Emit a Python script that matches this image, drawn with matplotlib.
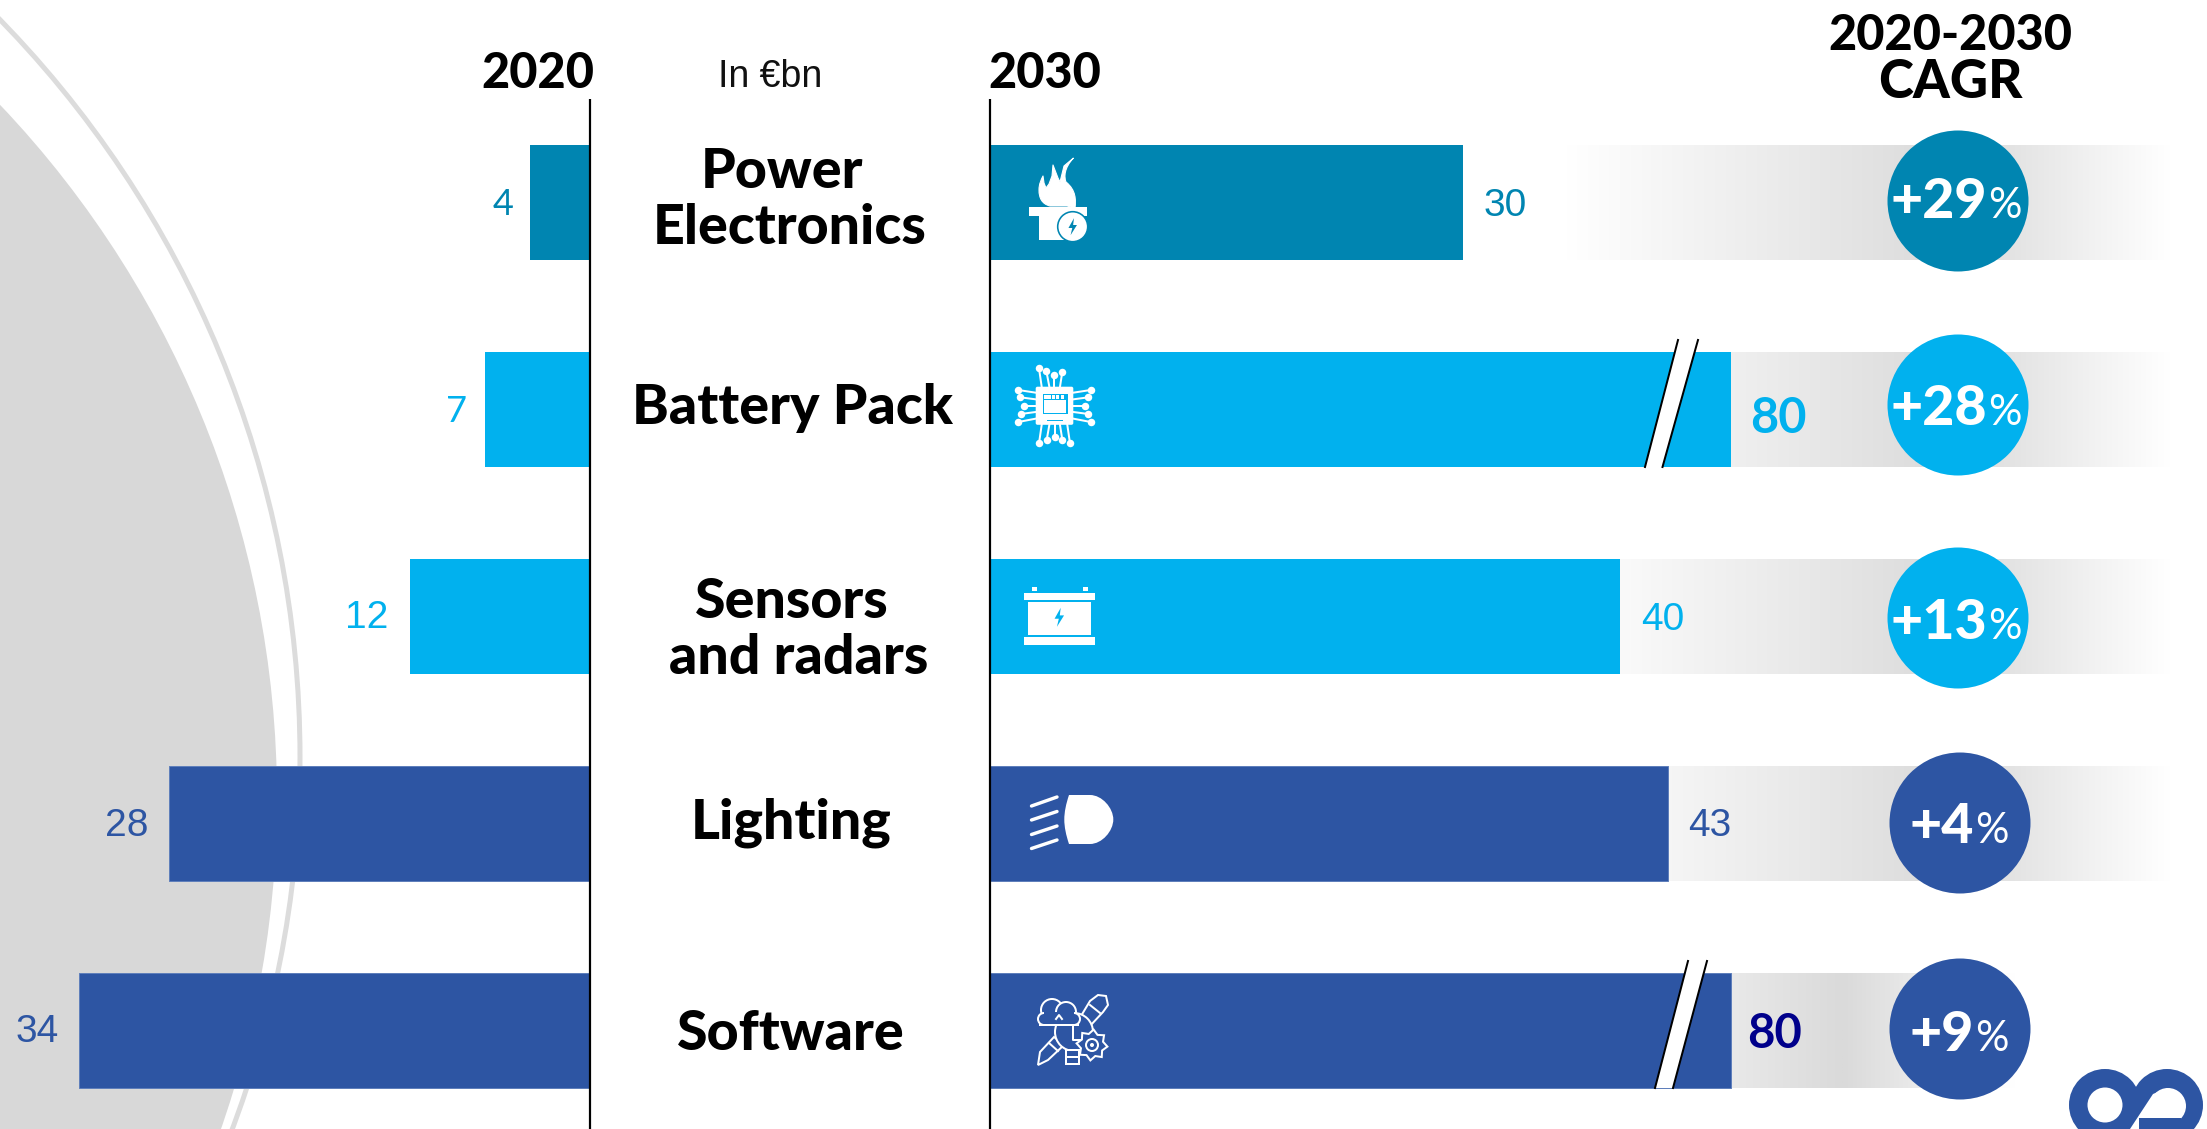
"""Automotive electronics market: 2020 vs 2030 mirrored bars with CAGR badges."""

import matplotlib

matplotlib.use("Agg")
import matplotlib.pyplot as plt
import numpy as np
from matplotlib.colors import LinearSegmentedColormap
from matplotlib.patches import Circle, FancyBboxPatch, PathPatch, Polygon, Rectangle
from matplotlib.path import Path
from matplotlib.scale import FuncScale

# data
categories = ["Power Electronics", "Battery Pack", "Sensors and radars", "Lighting", "Software"]
values_2020 = [4, 7, 12, 28, 34]
values_2030 = [30, 80, 40, 43, 80]
cagr_pct = [29, 28, 13, 4, 9]
category_lines = [["Power", "Electronics"], ["Battery Pack"], ["Sensors", "and radars"], ["Lighting"], ["Software"]]

# figure layout, in pixels
W, H = 2207, 1129
PX = 72 / 100  # points per pixel at dpi 100
ROW0, PITCH, BAR_PX = 202.5, 207, 115
AXIS_2020, AXIS_2030 = 589.5, 989.5
SCALE_2020, SCALE_2030 = 15.0, 15.77
BREAK_AT = 45
BREAK_SQUEEZE = 0.0586

TEAL, SKY, BLUE = "#0085B1", "#01B1EE", "#2D55A3"
row_colors = [TEAL, SKY, SKY, BLUE, BLUE]
HEAD_FONT = "Lato"
row_px = [ROW0 + PITCH * i for i in range(len(categories))]

fig = plt.figure(figsize=(W / 100, H / 100), dpi=100, facecolor="white")


def pixel_axes(zorder):
    ax = fig.add_axes([0, 0, 1, 1], zorder=zorder)
    ax.set_xlim(0, W)
    ax.set_ylim(H, 0)
    ax.axis("off")
    ax.patch.set_alpha(0)
    return ax


ax_bg = pixel_axes(0)
ax_top = pixel_axes(3)

# grey disc and ring behind the 2020 bars
ax_bg.add_patch(Circle((-729, 798), 1006, fc="#D8D8D8", ec="none"))
ax_bg.add_patch(Circle((-756, 757), 1056, fc="none", ec="#DCDCDC", lw=5 * PX))

# fading bands behind the CAGR badges
fade = LinearSegmentedColormap.from_list("fade", ["#FFFFFF", "#DADADA"])
band_stops = [(1566, 1958, 2170)] * 4 + [(1566, 1843, 2015)]
for y, (x0, xm, x1) in zip(row_px, band_stops):
    xs = np.arange(x0, x1 + 1)
    ramp = np.interp(xs, [x0, xm, x1], [0, 1, 0])[None, :]
    ax_bg.imshow(ramp, cmap=fade, vmin=0, vmax=1, aspect="auto", interpolation="bilinear",
                 extent=(x0, x1, y + BAR_PX / 2, y - BAR_PX / 2), zorder=1)
ax_bg.set_xlim(0, W)
ax_bg.set_ylim(H, 0)

# 2020 bars grow leftwards from their axis
y_limits = ((H - ROW0) / PITCH, -ROW0 / PITCH)
rows = np.arange(len(categories))
ax_left = fig.add_axes([0, 0, AXIS_2020 / W, 1], zorder=1)
ax_left.barh(rows, values_2020, height=BAR_PX / PITCH, color=row_colors)
ax_left.set_xlim(AXIS_2020 / SCALE_2020, 0)
ax_left.set_ylim(*y_limits)
ax_left.axis("off")
ax_left.patch.set_alpha(0)


# 2030 axis is squeezed above BREAK_AT so the 80 bars fit
def squeeze(x):
    x = np.asarray(x, dtype=float)
    return np.where(x <= BREAK_AT, x, BREAK_AT + (x - BREAK_AT) * BREAK_SQUEEZE)


def unsqueeze(x):
    x = np.asarray(x, dtype=float)
    return np.where(x <= BREAK_AT, x, BREAK_AT + (x - BREAK_AT) / BREAK_SQUEEZE)


ax_right = fig.add_axes([AXIS_2030 / W, 0, 1 - AXIS_2030 / W, 1], zorder=1)
ax_right.set_xscale(FuncScale(ax_right.xaxis, (squeeze, unsqueeze)))
ax_right.barh(rows, values_2030, height=BAR_PX / PITCH, color=row_colors)
ax_right.set_xlim(0, float(unsqueeze((W - AXIS_2030) / SCALE_2030)))
ax_right.set_ylim(*y_limits)
ax_right.axis("off")
ax_right.patch.set_alpha(0)

# thin lighter outline on the dark rows
for ax in (ax_left, ax_right):
    for bar, color in zip(ax.patches, row_colors):
        if color == BLUE:
            bar.set_edgecolor("#5F7FBB")
            bar.set_linewidth(1 * PX)

# value labels: (gap, drop) in pixels from the bar end
left_gap = [16, 18, 21, 21, 21]
left_font = ["Lato", "Lato", "Liberation Sans", "Liberation Sans", "Liberation Sans"]
left_size = [26, 26, 28, 28, 28]
right_gap = [21, 19, 21, 21, 16]
right_drop = [3, 9, 3, 3, 3]
right_color = [TEAL, SKY, SKY, BLUE, "#00008B"]
right_size = [28, 35, 28, 28, 34]
for i in rows:
    ax_left.annotate(str(values_2020[i]), (values_2020[i], i), xytext=(-left_gap[i] * PX, -2 * PX),
                     textcoords="offset points", ha="right", va="center", color=row_colors[i],
                     fontsize=left_size[i], fontfamily=left_font[i], zorder=5)
    is_long = values_2030[i] == 80
    ax_right.annotate(str(values_2030[i]), (values_2030[i], i), xytext=(right_gap[i] * PX, -right_drop[i] * PX),
                      textcoords="offset points", ha="left", va="center", color=right_color[i],
                      fontsize=right_size[i], fontweight="bold" if is_long else "normal",
                      fontfamily="Lato" if is_long else "Liberation Sans", zorder=5)

# axis rules and headers
for x in (AXIS_2020, AXIS_2030):
    ax_top.plot([x, x], [99, H], color="black", lw=2.2 * PX, solid_capstyle="butt")

head = dict(fontfamily=HEAD_FONT, fontweight="black", color="black", va="center")
ax_top.text(594, 73, "2020", ha="right", fontsize=35, **head)
ax_top.text(988, 73, "2030", ha="left", fontsize=35, **head)
ax_top.text(1950, 35, "2020-2030", ha="center", fontsize=35, **head)
ax_top.text(1950, 83, "CAGR", ha="center", fontsize=38, **head)
ax_top.text(770, 77, "In €bn", ha="center", va="center", fontsize=27, fontfamily="Liberation Sans", color="#111111")

# category names, line by line
name_pos = [[(782, 172), (790, 228)], [(792, 408)], [(792, 602), (799, 658)], [(791, 823)], [(791, 1034)]]
for lines, places in zip(category_lines, name_pos):
    for line, (x, y) in zip(lines, places):
        ax_top.text(x, y, line, ha="center", va="center", fontfamily=HEAD_FONT, fontweight="black",
                    fontsize=40, color="black")

# broken-bar marks
for (bx0, bx1, tx0, tx1, ty, by) in [(1645, 1662.5, 1678, 1698, 340, 467), (1655, 1673, 1688, 1707, 961, 1088)]:
    ax_top.add_patch(Polygon([(bx0, by), (tx0, ty), (tx1, ty), (bx1, by)], fc="white", ec="none"))
    ax_top.plot([bx0, tx0], [by, ty], color="black", lw=2 * PX)
    ax_top.plot([bx1, tx1], [by, ty], color="black", lw=2 * PX)

# CAGR badges
badge_x = [1958, 1958, 1958, 1960, 1960]
badge_nudge = [-1.5, -4.5, 1.5, -0.5, -1.5]
badge_y = [y + n for y, n in zip(row_px, badge_nudge)]
ax_top.scatter(badge_x, badge_y, s=(141 * PX) ** 2, c=row_colors, linewidths=0, zorder=4)
split_x = [1987, 1987, 1987, 1973.5, 1973.5]
baseline = [218, 425, 639, 843, 1051]
for i in rows:
    ax_top.text(split_x[i], baseline[i], f"+{cagr_pct[i]}", ha="right", va="baseline", color="white",
                fontfamily=HEAD_FONT, fontweight="black", fontsize=40, zorder=5)
    ax_top.text(split_x[i] + 1.5, baseline[i], "%", ha="left", va="baseline", color="white",
                fontfamily=HEAD_FONT, fontsize=30, zorder=5)


# pictograms on the 2030 bars
def bolt(cx, cy, size, color):
    pts = np.array([(0.15, -1), (-0.5, 0.15), (-0.05, 0.15), (-0.25, 1), (0.5, -0.2), (0.05, -0.2)])
    ax_top.add_patch(Polygon(pts * size + (cx, cy), fc=color, ec="none", zorder=6))


def draw_flame():
    w = "white"
    # tips and the valley stay sharp, the body is drawn with curves
    verts = [(1073.5, 158), (1064, 168), (1064, 177), (1066, 182), (1076, 190), (1076, 200), (1075, 208), (1067, 206),
             (1050, 206), (1042, 204), (1039, 198), (1039, 190), (1039, 184), (1041, 180), (1043, 176), (1044, 183),
             (1046, 188), (1049, 184), (1052, 176), (1053, 165), (1058, 178), (1060, 182), (1064, 166), (1073.5, 158)]
    codes = [Path.MOVETO, Path.CURVE4, Path.CURVE4, Path.CURVE4, Path.CURVE4, Path.CURVE4, Path.CURVE4, Path.LINETO,
             Path.LINETO, Path.CURVE4, Path.CURVE4, Path.CURVE4, Path.CURVE4, Path.CURVE4, Path.LINETO, Path.LINETO,
             Path.LINETO, Path.LINETO, Path.LINETO, Path.LINETO, Path.LINETO, Path.LINETO, Path.LINETO, Path.LINETO]
    ax_top.add_patch(PathPatch(Path(verts, codes), fc=w, ec=w, lw=0.8, joinstyle="round", zorder=5))
    ax_top.add_patch(Rectangle((1029, 207), 58, 9, fc=w, ec="none", zorder=5))
    ax_top.add_patch(Rectangle((1039, 216), 25, 24, fc=w, ec="none", zorder=5))
    ax_top.add_patch(Circle((1072.7, 226.7), 15, fc=w, ec=TEAL, lw=1.6 * PX, zorder=5))
    bolt(1072.7, 226.7, 8.5, TEAL)


def draw_chip():
    w = "white"
    lw = 2 * PX
    top = [(267, 745), (289, 753), (313, 765), (337, 755)]
    bottom = [(267, 970), (290, 960), (314, 952), (337, 960), (360, 970)]
    left = [(205, 810), (211, 832), (222, 857), (212, 882), (205, 906)]
    right = [(422, 810), (415, 832), (404, 857), (415, 882), (422, 906)]
    ox, oy = 950, 120
    for (dx, dy), (ex, ey) in zip(top, [(275, 800), (298, 800), (313, 800), (330, 800)]):
        ax_top.plot([ox + dx / 3, ox + ex / 3], [oy + dy / 3, oy + ey / 3], color=w, lw=lw, zorder=5)
    for (dx, dy), ex in zip(bottom, [275, 298, 314, 330, 352]):
        ax_top.plot([ox + dx / 3, ox + ex / 3], [oy + dy / 3, oy + 915 / 3], color=w, lw=lw, zorder=5)
    for (dx, dy), ey in zip(left, [818, 838, 857, 876, 896]):
        ax_top.plot([ox + dx / 3, ox + 257 / 3], [oy + dy / 3, oy + ey / 3], color=w, lw=lw, zorder=5)
    for (dx, dy), ey in zip(right, [818, 838, 857, 876, 896]):
        ax_top.plot([ox + dx / 3, ox + 370 / 3], [oy + dy / 3, oy + ey / 3], color=w, lw=lw, zorder=5)
    dots = np.array(top + bottom + left + right, dtype=float) / 3 + (ox, oy)
    ax_top.scatter(dots[:, 0], dots[:, 1], s=(7.5 * PX) ** 2, c=w, linewidths=0, zorder=5)
    ax_top.add_patch(FancyBboxPatch((1037.5, 388.5), 34, 34.5, boxstyle="round,pad=1.8", fc=w, ec="none", zorder=5))
    ax_top.add_patch(Rectangle((1042.5, 393.5), 25, 20.5, fc=SKY, ec="none", zorder=6))
    ax_top.add_patch(Rectangle((1044, 400), 22, 12.5, fc=w, ec="none", zorder=7))
    for x in (1044, 1052, 1056, 1060.5):
        ax_top.add_patch(Rectangle((x, 395), 3 if x > 1044 else 7, 4, fc=w, ec="none", zorder=7))
    ax_top.add_patch(Rectangle((1047, 420), 16, 1.3, fc=SKY, ec="none", zorder=7))


def draw_battery():
    w = "white"
    for x, y, bw, bh in [(1024, 592.7, 71.3, 7.3), (1028.3, 602, 62.4, 33), (1024, 637, 71.3, 7.7),
                         (1032, 586.7, 5, 4.6), (1083, 586.7, 5, 4.6)]:
        ax_top.add_patch(Rectangle((x, y), bw, bh, fc=w, ec="none", zorder=5))
    bolt(1059.3, 617.3, 9.5, SKY)


def draw_headlight():
    w = "white"
    verts = [(1069, 795), (1090, 795), (1102, 795), (1113.3, 808), (1113.3, 819.5), (1113.3, 831), (1102, 844), (1090, 844),
             (1069, 844), (1066, 835), (1064.3, 827), (1064.3, 819.5), (1064.3, 812), (1066, 804), (1069, 795)]
    codes = [Path.MOVETO, Path.LINETO] + [Path.CURVE4] * 6 + [Path.LINETO] + [Path.CURVE4] * 6
    ax_top.add_patch(PathPatch(Path(verts, codes), fc=w, ec="none", zorder=5))
    for y0, y1 in [(806, 797), (820, 811.5), (834.5, 826), (848.5, 840)]:
        ax_top.plot([1031.5, 1057], [y0, y1], color=w, lw=3.4 * PX, solid_capstyle="round", zorder=5)


def draw_software():
    w = "white"
    lw = 2 * PX
    # pencil running behind the bulb
    ax_top.add_patch(Polygon([(1090, 1001), (1098, 995), (1106, 996), (1108, 1005), (1103, 1012), (1090, 1026), (1081, 1016)],
                             fc=BLUE, ec=w, lw=lw, zorder=5))
    ax_top.add_patch(Polygon([(1054, 1037), (1064, 1045), (1048, 1060), (1038, 1065), (1040, 1052)],
                             fc=BLUE, ec=w, lw=lw, zorder=5))
    ax_top.plot([1090, 1100], [1005, 1013], color=w, lw=lw, zorder=5)
    ax_top.plot([1049, 1058], [1043, 1051], color=w, lw=lw, zorder=5)
    # bulb
    ax_top.add_patch(Circle((1074, 1032), 19, fc=BLUE, ec=w, lw=lw, zorder=5))
    ax_top.add_patch(Rectangle((1066, 1050), 13, 14, fc=BLUE, ec=w, lw=lw, zorder=5))
    ax_top.plot([1066, 1079], [1057, 1057], color=w, lw=lw, zorder=6)
    ax_top.plot([1073, 1073, 1083], [1026, 1040, 1040], color=w, lw=lw, zorder=6)
    # cloud
    for cx, cy, r in [(1052, 1010, 11), (1066, 1012, 10), (1044, 1019, 6), (1074, 1019, 6)]:
        ax_top.add_patch(Circle((cx, cy), r, fc=BLUE, ec=w, lw=lw, zorder=6))
    ax_top.add_patch(Rectangle((1044, 1012), 30, 13, fc=BLUE, ec="none", zorder=6.5))
    ax_top.plot([1040, 1078], [1025, 1025], color=w, lw=lw, zorder=7)
    ax_top.plot([1056, 1059, 1062], [1019, 1015, 1019], color=w, lw=lw, zorder=7)
    # gear
    teeth = np.deg2rad(np.arange(0, 360, 22.5) + 6)
    radius = np.where(np.arange(len(teeth)) % 2 == 0, 15.5, 11.5)
    gear = np.c_[1092 + radius * np.cos(teeth), 1045 + radius * np.sin(teeth)]
    ax_top.add_patch(Polygon(gear, fc=BLUE, ec=w, lw=lw, zorder=7))
    ax_top.add_patch(Circle((1092, 1045), 6, fc="none", ec=w, lw=lw, zorder=8))
    ax_top.add_patch(Circle((1092, 1045), 2, fc=w, ec="none", zorder=8))


draw_flame()
draw_chip()
draw_battery()
draw_headlight()
draw_software()

# logo in the corner, cropped by the page edge
for cx in (2105, 2167):
    ax_top.add_patch(Circle((cx, 1105), 36, fc=BLUE, ec="none", zorder=5))
ax_top.add_patch(Circle((2105, 1105), 17.5, fc="white", ec="none", zorder=6))
ax_top.add_patch(Circle((2168, 1106), 18, fc="white", ec="none", zorder=6))
ax_top.add_patch(Rectangle((2139, 1118), 42, 12, fc=BLUE, ec="none", zorder=6.5))
ax_top.add_patch(Polygon([(2153, 1094), (2168, 1088), (2168, 1118), (2139, 1118), (2139, 1129), (2130, 1129)],
                         fc="white", ec="none", zorder=7))

fig.savefig("out.png", dpi=100, facecolor="white")
